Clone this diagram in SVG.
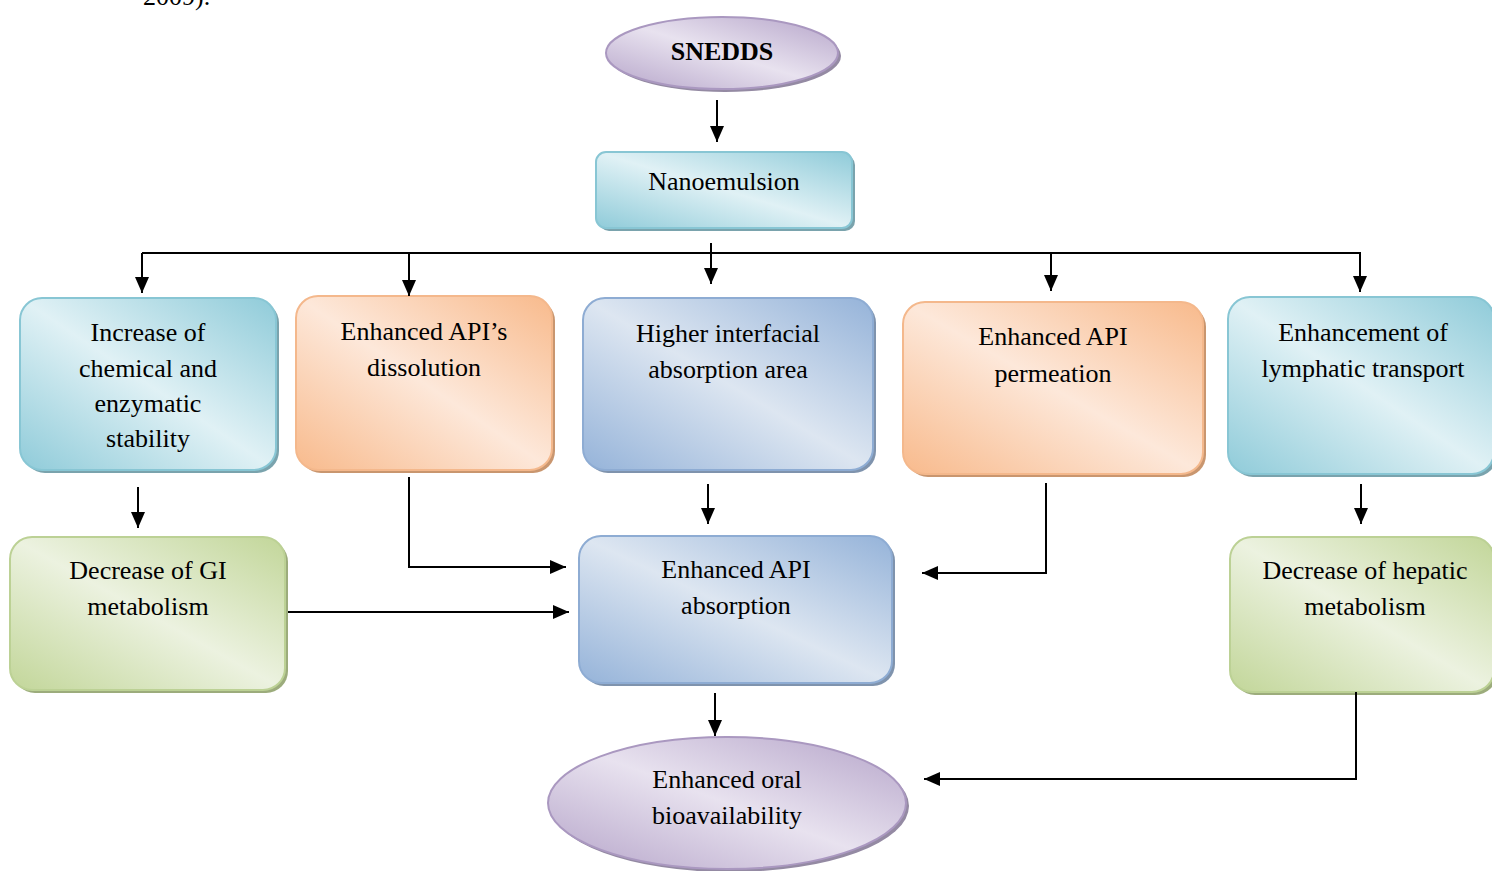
<svg xmlns="http://www.w3.org/2000/svg" width="1492" height="871" viewBox="0 0 1492 871">
  <defs>
    <linearGradient id="gTeal" x1="0" y1="1" x2="1" y2="0">
      <stop offset="0" stop-color="#8fcbd9"/>
      <stop offset="0.5" stop-color="#e0f1f5"/>
      <stop offset="1" stop-color="#8fcbd9"/>
    </linearGradient>
    <linearGradient id="gOrange" x1="0" y1="1" x2="1" y2="0">
      <stop offset="0" stop-color="#f8ba8c"/>
      <stop offset="0.5" stop-color="#fde8da"/>
      <stop offset="1" stop-color="#f8ba8c"/>
    </linearGradient>
    <linearGradient id="gBlue" x1="0" y1="1" x2="1" y2="0">
      <stop offset="0" stop-color="#95b3d9"/>
      <stop offset="0.5" stop-color="#dde6f1"/>
      <stop offset="1" stop-color="#95b3d9"/>
    </linearGradient>
    <linearGradient id="gGreen" x1="0" y1="1" x2="1" y2="0">
      <stop offset="0" stop-color="#c2d699"/>
      <stop offset="0.5" stop-color="#ecf2e0"/>
      <stop offset="1" stop-color="#c2d699"/>
    </linearGradient>
    <linearGradient id="gPurple" x1="0" y1="1" x2="1" y2="0">
      <stop offset="0" stop-color="#b5a4c9"/>
      <stop offset="0.5" stop-color="#e8e2ef"/>
      <stop offset="1" stop-color="#b5a4c9"/>
    </linearGradient>
    <marker id="arrow" viewBox="0 0 16 14" refX="16" refY="7" markerWidth="16" markerHeight="14" markerUnits="userSpaceOnUse" orient="auto">
      <path d="M0,0 L16,7 L0,14 z" fill="#000"/>
    </marker>
    <style>
      text { font-family: "Liberation Serif", "Times New Roman", serif; font-size: 26px; fill: #000; text-anchor: middle; }
      .bold { font-weight: bold; }
      .teal { fill: url(#gTeal); stroke: #88c6d4; stroke-width: 2; }
      .orange { fill: url(#gOrange); stroke: #f4b88c; stroke-width: 2; }
      .blue { fill: url(#gBlue); stroke: #8eacd3; stroke-width: 2; }
      .green { fill: url(#gGreen); stroke: #bcd195; stroke-width: 2; }
      .purple { fill: url(#gPurple); stroke: #aa98c0; stroke-width: 2; }
      .sh-teal { fill: #7aa3ad; }
      .sh-orange { fill: #c9966f; }
      .sh-blue { fill: #7f93ad; }
      .sh-green { fill: #9cac7c; }
      .sh-purple { fill: #948aa3; }
      .conn path, .conn line { fill: none; stroke: #000; stroke-width: 2; }
      .arr { marker-end: url(#arrow); }
    </style>
  </defs>

  <rect width="1492" height="871" fill="#fff"/>

  <!-- tail of the preceding paragraph -->
  <text x="143" y="5" style="text-anchor:start">2009).</text>

  <!-- top ellipse -->
  <g id="snedds">
    <ellipse cx="725" cy="56" rx="116" ry="36" class="sh-purple"/>
    <ellipse cx="722" cy="53" rx="116" ry="36" class="purple"/>
    <text x="722" y="60" class="bold">SNEDDS</text>
  </g>

  <g id="nanoemulsion">
    <rect x="599" y="155" width="256" height="76" rx="10" class="sh-teal"/>
    <rect x="596" y="152" width="256" height="76" rx="10" class="teal"/>
    <text x="724" y="190">Nanoemulsion</text>
  </g>

  <g id="stability">
    <rect x="23" y="301" width="256" height="172" rx="22" class="sh-teal"/>
    <rect x="20" y="298" width="256" height="172" rx="22" class="teal"/>
    <text x="148" y="341">Increase of</text>
    <text x="148" y="377">chemical and</text>
    <text x="148" y="412">enzymatic</text>
    <text x="148" y="447">stability</text>
  </g>

  <g id="dissolution">
    <rect x="299" y="299" width="256" height="174" rx="22" class="sh-orange"/>
    <rect x="296" y="296" width="256" height="174" rx="22" class="orange"/>
    <text x="424" y="340">Enhanced API’s</text>
    <text x="424" y="376">dissolution</text>
  </g>

  <g id="interfacial">
    <rect x="586" y="301" width="290" height="172" rx="22" class="sh-blue"/>
    <rect x="583" y="298" width="290" height="172" rx="22" class="blue"/>
    <text x="728" y="342">Higher interfacial</text>
    <text x="728" y="378">absorption area</text>
  </g>

  <g id="permeation">
    <rect x="906" y="305" width="300" height="172" rx="22" class="sh-orange"/>
    <rect x="903" y="302" width="300" height="172" rx="22" class="orange"/>
    <text x="1053" y="345">Enhanced API</text>
    <text x="1053" y="382">permeation</text>
  </g>

  <g id="lymphatic">
    <rect x="1231" y="300" width="266" height="177" rx="22" class="sh-teal"/>
    <rect x="1228" y="297" width="266" height="177" rx="22" class="teal"/>
    <text x="1363" y="341">Enhancement of</text>
    <text x="1363" y="377">lymphatic transport</text>
  </g>

  <g id="gi-metabolism">
    <rect x="13" y="540" width="275" height="153" rx="22" class="sh-green"/>
    <rect x="10" y="537" width="275" height="153" rx="22" class="green"/>
    <text x="148" y="579">Decrease of GI</text>
    <text x="148" y="615">metabolism</text>
  </g>

  <g id="absorption">
    <rect x="582" y="539" width="313" height="147" rx="22" class="sh-blue"/>
    <rect x="579" y="536" width="313" height="147" rx="22" class="blue"/>
    <text x="736" y="578">Enhanced API</text>
    <text x="736" y="614">absorption</text>
  </g>

  <g id="hepatic-metabolism">
    <rect x="1233" y="540" width="264" height="155" rx="22" class="sh-green"/>
    <rect x="1230" y="537" width="264" height="155" rx="22" class="green"/>
    <text x="1365" y="579">Decrease of hepatic</text>
    <text x="1365" y="615">metabolism</text>
  </g>

  <g id="bioavailability">
    <ellipse cx="730" cy="806" rx="179" ry="66" class="sh-purple"/>
    <ellipse cx="727" cy="803" rx="179" ry="66" class="purple"/>
    <text x="727" y="788">Enhanced oral</text>
    <text x="727" y="824">bioavailability</text>
  </g>

  <!-- connectors -->
  <g class="conn">
    <line x1="717" y1="100" x2="717" y2="142" class="arr"/>
    <line x1="142" y1="253" x2="1361" y2="253"/>
    <line x1="142" y1="253" x2="142" y2="293" class="arr"/>
    <line x1="409" y1="253" x2="409" y2="296" class="arr"/>
    <line x1="711" y1="243" x2="711" y2="284" class="arr"/>
    <line x1="1051" y1="253" x2="1051" y2="291" class="arr"/>
    <line x1="1360" y1="253" x2="1360" y2="292" class="arr"/>
    <line x1="138" y1="487" x2="138" y2="528" class="arr"/>
    <line x1="708" y1="484" x2="708" y2="524" class="arr"/>
    <line x1="1361" y1="484" x2="1361" y2="524" class="arr"/>
    <path d="M409,477 L409,567 L566,567" class="arr"/>
    <line x1="288" y1="612" x2="569" y2="612" class="arr"/>
    <path d="M1046,483 L1046,573 L922,573" class="arr"/>
    <line x1="715" y1="693" x2="715" y2="736" class="arr"/>
    <path d="M1356,692 L1356,779 L924,779" class="arr"/>
  </g>
</svg>
